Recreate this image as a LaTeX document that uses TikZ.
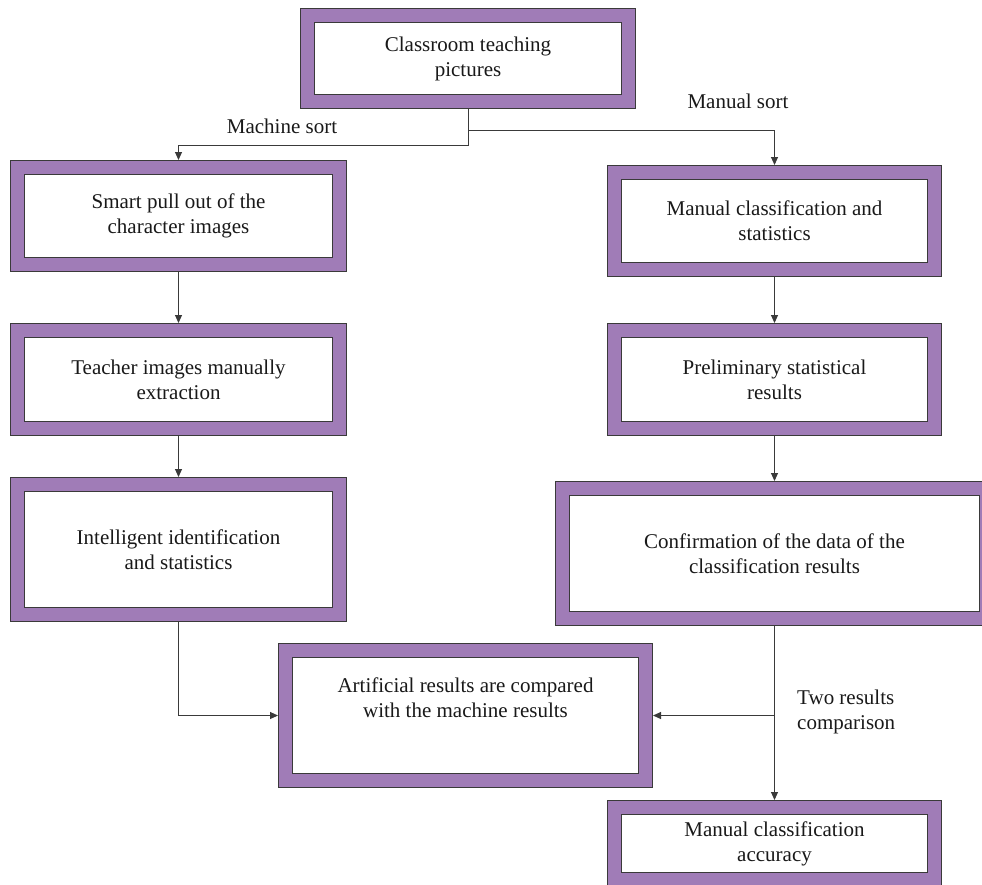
\documentclass[tikz,border=0pt]{standalone}
\usepackage{fontspec}
\setmainfont{Liberation Serif}
\usepackage{xcolor}
\usepackage{tikz}
\usetikzlibrary{positioning,arrows.meta,calc}
\definecolor{boxpurple}{RGB}{160,124,183}
\definecolor{linegray}{RGB}{58,58,58}

\begin{document}
\begin{tikzpicture}[x=1pt, y=-1pt,
  box/.style={draw=linegray, line width=0.75pt, double=boxpurple, double distance=13.5pt,
    fill=white, inner sep=0pt, outer sep=7.5pt, align=center,
    font=\fontsize{21}{25}\selectfont, text=black!90},
  lab/.style={font=\fontsize{21}{25}\selectfont, text=black!90, inner sep=0pt},
  arr/.style={draw=linegray, line width=1pt, -{Triangle[length=8pt, width=7pt]}}]
\useasboundingbox (0,0) rectangle (982,884);
\node[box, minimum width=321pt, minimum height=86pt] (cls) at (468,58.5)
  {Classroom teaching\\pictures};
\node[box, minimum width=322pt, minimum height=97pt] (smart) at (178.5,216)
  {Smart pull out of the\\character images};
\node[box, minimum width=322pt, minimum height=98pt] (teacher) at (178.5,379.5)
  {Teacher images manually\\extraction};
\node[box, minimum width=322pt, minimum height=130pt] (intel) at (178.5,549.5)
  {Intelligent identification\\and statistics};
\node[box, minimum width=320pt, minimum height=97pt] (manual) at (774.5,221)
  {Manual classification and\\statistics};
\node[box, minimum width=320pt, minimum height=98pt] (prelim) at (774.5,379.5)
  {Preliminary statistical\\results};
\node[box, minimum width=424pt, minimum height=130pt] (confirm) at (774.5,553.5)
  {Confirmation of the data of the\\classification results};
\node[box, minimum width=360pt, minimum height=130pt] (artif) at (465.5,715.5)
  {Artificial results are compared\\with the machine results\\[10pt]};
\node[box, minimum width=320pt, minimum height=72pt] (acc) at (774.5,843.5)
  {Manual classification\\accuracy};
\node[lab] (machinelab) at (282,126) {Machine sort};
\node[lab] (manuallab) at (738,101) {Manual sort};
\node[lab, align=left, anchor=west] (twolab) at (797,712) {Two results\\comparison};
\coordinate (fork) at ($(cls.south)+(0,21)$);
\coordinate (split) at (confirm.south |- artif.east);
\draw[arr] (cls.south) -- ++(0,36) -| (smart.north);
\draw[arr] (fork) -| (manual.north);
\draw[arr] (smart) -- (teacher);
\draw[arr] (teacher) -- (intel);
\draw[arr] (manual) -- (prelim);
\draw[arr] (prelim) -- (confirm);
\draw[arr] (intel.south) |- (artif.west);
\draw[arr] (confirm.south) -- (acc.north);
\draw[arr] (split) -- (artif.east);
\end{tikzpicture}
\end{document}
